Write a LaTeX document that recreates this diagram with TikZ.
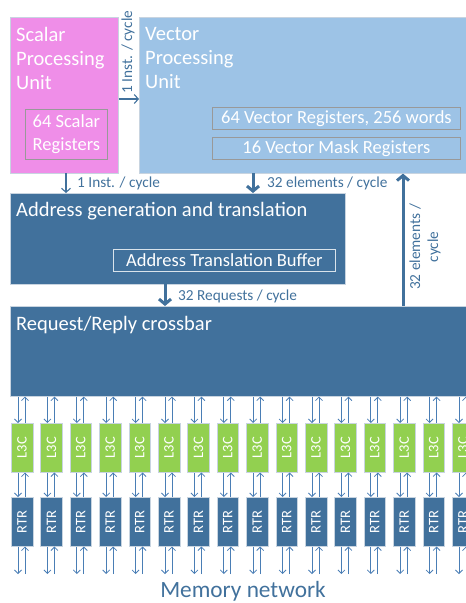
\documentclass[tikz,border=0pt]{standalone}
\usepackage{fontspec}
\setmainfont{Carlito}
\usetikzlibrary{arrows.meta}
\definecolor{dblue}{HTML}{41719C}
\definecolor{lblue}{HTML}{9DC3E6}
\definecolor{pinkc}{HTML}{EF8EE8}
\definecolor{greenc}{HTML}{92D050}
\definecolor{arrc}{HTML}{4A7EB5}
\definecolor{edgec}{HTML}{C8D4E0}
\begin{document}
\begin{tikzpicture}[x=1pt,y=-1pt,
  blk/.style={draw=edgec,line width=0.6pt,anchor=north west,inner sep=0pt},
  inbox/.style={draw=gray!80,line width=0.8pt,anchor=north west,inner sep=0pt,text=white,font=\fontsize{18.5}{23}\selectfont},
  title/.style={anchor=north west,inner sep=0pt,text=white,align=left,font=\fontsize{20.5}{24}\selectfont},
  lbl/.style={text=dblue,inner sep=0pt,font=\fontsize{15.3}{18}\selectfont},
  thick arr/.style={draw=dblue,line width=3pt,-{Straight Barb[length=5pt,width=12pt]}},
  thin arr/.style={draw=dblue,line width=1.1pt,-{Straight Barb[length=4pt,width=9pt]}},
  mem arr/.style={draw=arrc,line width=0.8pt,-{Straight Barb[length=3.5pt,width=7pt]}},
  cell/.style={draw=edgec,line width=0.5pt,anchor=north west,minimum width=21.5pt,minimum height=49pt,inner sep=0pt,text=white,font=\fontsize{14.5}{17}\selectfont}
]
\useasboundingbox (0,0) rectangle (466,603);

% Scalar processing unit
\node[blk,fill=pinkc,minimum width=108pt,minimum height=156pt] (spu) at (10,17) {};
\node[title] (spu-t) at (16,27) {Scalar\\Processing\\Unit};
\node[inbox,minimum width=82pt,minimum height=50pt,align=center] (sreg) at (25,109) {64 Scalar\\Registers};

% Vector processing unit
\node[blk,fill=lblue,minimum width=330pt,minimum height=156pt] (vpu) at (139,17) {};
\node[title] (vpu-t) at (145,27) {Vector\\Processing\\Unit};
\node[inbox,minimum width=248pt,minimum height=22pt] (vreg) at (212,107) {64 Vector Registers, 256 words};
\node[inbox,minimum width=248pt,minimum height=22pt] (vmask) at (212,137) {16 Vector Mask Registers};

% Address generation
\node[blk,fill=dblue,minimum width=335pt,minimum height=91pt] (agu) at (10,193) {};
\node[title] (agu-t) at (16,202) {Address generation and translation};
\node[inbox,draw=white!80!dblue,minimum width=222pt,minimum height=22pt] (atb) at (113,249) {Address Translation Buffer};

% Crossbar
\node[blk,fill=dblue,minimum width=460pt,minimum height=90pt] (xbar) at (10,306) {};
\node[title] (xbar-t) at (16,316) {Request/Reply crossbar};

% connectors between units
\coordinate (c1) at (139,99);
\draw[thin arr] (spu.east |- c1) -- (c1);
\node[lbl,rotate=90] (l1) at (128,52) {1 Inst. / cycle};

\coordinate (c2) at (66,173);
\draw[thin arr] (c2) -- (c2 |- agu.north);
\node[lbl,anchor=west] (l2) at (77,183) {1 Inst. / cycle};

\coordinate (c3) at (253,173);
\draw[thick arr] (c3) -- (c3 |- agu.north);
\node[lbl,anchor=west] (l3) at (267,183) {32 elements / cycle};

\coordinate (c4) at (165,284);
\draw[thick arr] (c4) -- (c4 |- xbar.north);
\node[lbl,anchor=west] (l4) at (178,296) {32 Requests / cycle};

\coordinate (c5) at (403,306);
\draw[thick arr] (c5) -- (c5 |- vpu.south);
\node[lbl,rotate=90,align=center] (l5) at (425,247) {32 elements /\\cycle};

% memory network columns
\foreach \i in {0,...,15}{
  \pgfmathsetmacro{\xx}{11+29.4*\i}
  \node[cell,fill=greenc] (l3c\i) at (\xx,423) {\rotatebox{90}{L3C}};
  \node[cell,fill=dblue] (rtr\i) at (\xx,497) {\rotatebox{90}{RTR}};
  \coordinate (bot\i) at (\xx+10.75,574);
  \draw[mem arr] ([xshift=-4pt]l3c\i.north |- xbar.south) -- ([xshift=-4pt]l3c\i.north);
  \draw[mem arr] ([xshift=3pt]l3c\i.north) -- ([xshift=3pt]l3c\i.north |- xbar.south);
  \draw[mem arr] ([xshift=-4pt]l3c\i.south) -- ([xshift=-4pt]rtr\i.north);
  \draw[mem arr] ([xshift=3pt]rtr\i.north) -- ([xshift=3pt]l3c\i.south);
  \draw[mem arr] ([xshift=-4pt]rtr\i.south) -- ([xshift=-4pt]rtr\i.south |- bot\i);
  \draw[mem arr] ([xshift=3pt]rtr\i.south |- bot\i) -- ([xshift=3pt]rtr\i.south);
}

\node[text=dblue,inner sep=0pt,font=\fontsize{23.3}{27}\selectfont] (mem) at (243,591) {Memory network};
\end{tikzpicture}
\end{document}
